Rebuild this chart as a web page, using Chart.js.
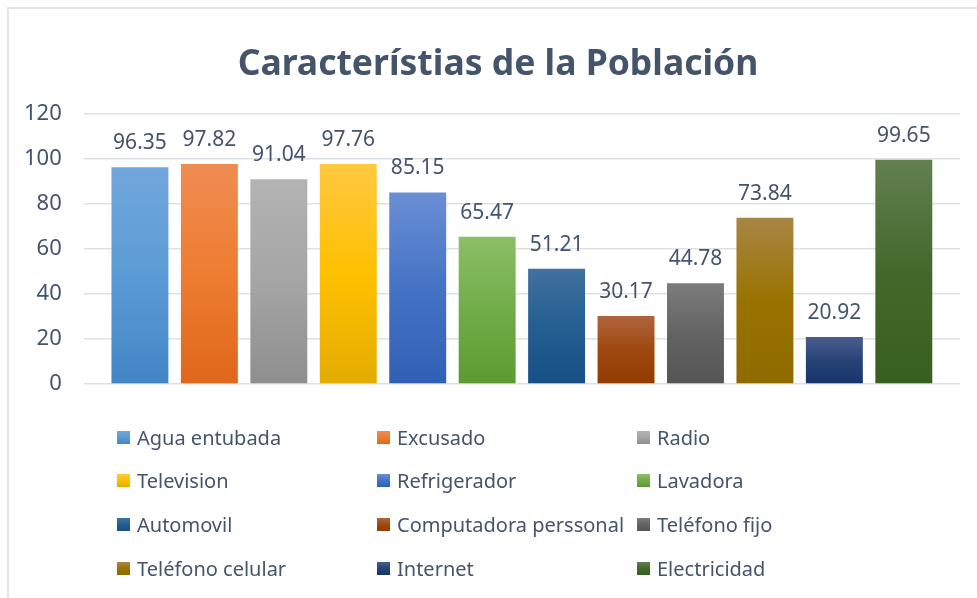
<!DOCTYPE html>
<html>
<head>
<meta charset="utf-8">
<script src="https://cdn.jsdelivr.net/npm/chart.js@4.4.0/dist/chart.umd.min.js"></script>
<style>
  html, body { margin: 0; padding: 0; background: #fff; }
  #wrap { position: relative; width: 977px; height: 598px; overflow: hidden; }
  #frame { position: absolute; left: 7px; top: 7px; right: -10px; bottom: -10px;
    border-left: 2px solid #e1e5ea; border-top: 2px solid #e1e5ea; }
  canvas { position: absolute; left: 0; top: 0; }
  #legend { position: absolute; left: 117px; top: 423px; font-family: 'Noto Sans', sans-serif;
    font-size: 20px; color: #44546a; }
  .item { position: absolute; white-space: nowrap; display: flex; align-items: center; height: 28px; }
  .box { width: 13px; height: 13px; margin-right: 7px; }
</style>
</head>
<body>
<div id="wrap">
  <div id="frame"></div>
  <canvas id="c" width="977" height="598"></canvas>
  <div id="legend"></div>
</div>
<script>
const chartTitle = 'Característias de la Población'
const categories = ['Agua entubada', 'Excusado', 'Radio', 'Television', 'Refrigerador', 'Lavadora',
  'Automovil', 'Computadora perssonal', 'Teléfono fijo', 'Teléfono celular', 'Internet', 'Electricidad']
const values = [96.35, 97.82, 91.04, 97.76, 85.15, 65.47, 51.21, 30.17, 44.78, 73.84, 20.92, 99.65]
const yTicks = [0, 20, 40, 60, 80, 100, 120]

// top / middle / bottom shades of each bar
const shades = [
  ['#72a6dc', '#5b9bd5', '#4385c5'],
  ['#f08c52', '#ed7d31', '#e0661a'],
  ['#b3b3b3', '#a5a5a5', '#8e8e8e'],
  ['#ffc940', '#ffc000', '#e3ac00'],
  ['#6a8fd6', '#4472c4', '#3060b6'],
  ['#8bbf68', '#70ad47', '#5c9b32'],
  ['#41719f', '#255e91', '#164f85'],
  ['#b0643c', '#9e480e', '#923b00'],
  ['#7c7c7c', '#636363', '#555555'],
  ['#a88644', '#997300', '#8f6a00'],
  ['#4a5d8d', '#264478', '#17336b'],
  ['#62804f', '#43682b', '#375f20']
]

const font = 'Noto Sans'
const textColor = '#44546a'

function barGradient(ctx, i) {
  const chart = ctx.chart
  const area = chart.chartArea
  const c = shades[i]
  if (!area) return c[1]
  const y = chart.scales.y
  const top = y.getPixelForValue(values[i])
  const bottom = y.getPixelForValue(0)
  const g = chart.ctx.createLinearGradient(0, top, 0, bottom)
  g.addColorStop(0, c[0])
  g.addColorStop(0.5, c[1])
  g.addColorStop(1, c[2])
  return g
}

// value above each bar + title centred on the whole frame
const labelsAndTitle = {
  id: 'labelsAndTitle',
  afterDatasetsDraw(chart) {
    const ctx = chart.ctx
    ctx.save()
    ctx.font = '21px "' + font + '"'
    ctx.fillStyle = textColor
    ctx.textAlign = 'center'
    ctx.textBaseline = 'middle'
    chart.data.datasets.forEach((ds, i) => {
      const el = chart.getDatasetMeta(i).data[0]
      ctx.fillText(ds.data[0].toFixed(2), el.x, el.y - 24)
    })
    ctx.font = 'bold 35.5px "' + font + '"'
    ctx.textBaseline = 'alphabetic'
    ctx.fillText(chartTitle, 498, 75)
    ctx.restore()
  }
}

const chart = new Chart(document.getElementById('c'), {
  type: 'bar',
  data: {
    labels: [''],
    datasets: categories.map((name, i) => ({
      label: name,
      data: [values[i]],
      backgroundColor: ctx => barGradient(ctx, i),
      barPercentage: 0.82,
      categoryPercentage: 0.951
    }))
  },
  options: {
    responsive: false,
    animation: false,
    layout: { padding: { left: 2, right: 17, top: 114, bottom: 214 } },
    plugins: {
      legend: { display: false },
      tooltip: { enabled: false },
      title: { display: false }
    },
    scales: {
      x: { display: false },
      y: {
        min: 0,
        max: 120,
        afterBuildTicks: axis => { axis.ticks = yTicks.map(v => ({ value: v })) },
        border: { display: false },
        grid: { color: '#dde1e6', lineWidth: 1.5, drawTicks: false },
        ticks: { color: textColor, font: { family: font, size: 22 }, padding: 22 }
      }
    }
  },
  plugins: [labelsAndTitle]
})

// legend: 3 columns, 4 rows
const legend = document.getElementById('legend')
categories.forEach((name, i) => {
  const c = shades[i]
  const item = document.createElement('div')
  item.className = 'item'
  item.style.left = (i % 3) * 260 + 'px'
  item.style.top = Math.floor(i / 3) * 43.7 + 'px'
  item.innerHTML = '<span class="box" style="background:linear-gradient(' + c[0] + ',' + c[1] + ',' + c[2] + ')"></span>' + name
  legend.appendChild(item)
})
</script>
</body>
</html>
